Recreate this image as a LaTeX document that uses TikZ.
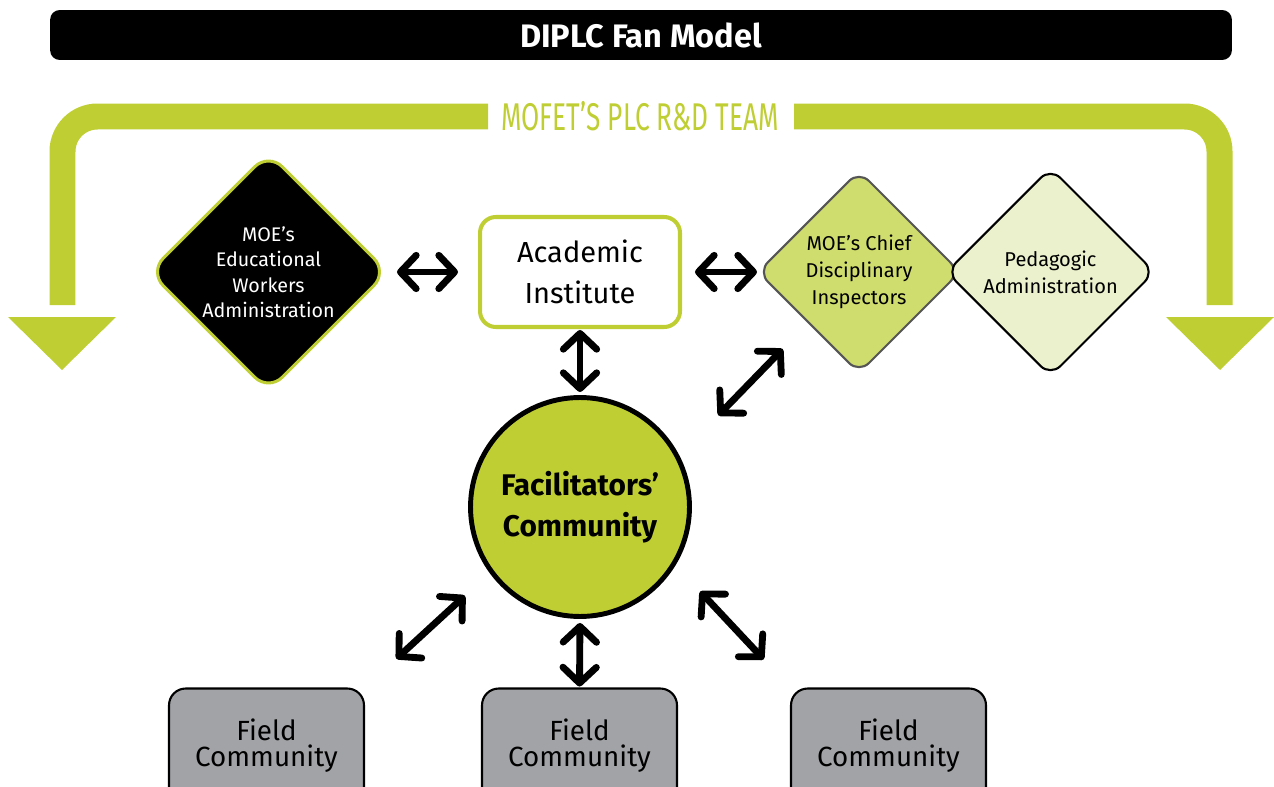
\documentclass[tikz,border=0pt]{standalone}
\usepackage{fontspec}
\setmainfont{Fira Sans}
\newfontfamily\teamfont[FakeStretch=0.68]{Fira Sans}
\usepackage{tikz}
\usetikzlibrary{positioning, arrows.meta, shapes.geometric}
\definecolor{fangreen}{RGB}{191,206,51}
\definecolor{chiefgreen}{RGB}{207,220,110}
\definecolor{pedagreen}{RGB}{235,241,204}
\definecolor{fieldgray}{RGB}{162,163,166}
\definecolor{chiefline}{RGB}{85,85,85}

\tikzset{
  barb/.tip={Straight Barb[length=9pt, width=19pt, round]},
  link/.style={barb-barb, line width=3.9pt, line cap=round},
  band/.style={fangreen, line width=0.52cm, rounded corners=0.7cm},
  rhomb/.style={diamond, aspect=1, inner sep=0pt, outer sep=0pt, align=center,
    font=\fontsize{11.2}{14.5}\selectfont},
  fieldbox/.style={draw=black, line width=1.2pt, fill=fieldgray, rounded corners=9.5pt,
    minimum width=3.9cm, minimum height=2.3cm, outer sep=0pt, align=center,
    font=\fontsize{15.8}{14.7}\selectfont},
}

\begin{document}
\begin{tikzpicture}[x=0.02cm, y=-0.02cm]
\clip (0,0) rectangle (1274,787);

% Title bar
\node[fill=black, rounded corners=5.5pt, minimum width=23.64cm, minimum height=1cm,
  text=white, font=\fontsize{18.5}{22}\selectfont\bfseries] (title) at (641,35) {DIPLC Fan Model};

% Fan band with its two heads
\draw[band] (62.5,305) -- (62.5,116.5) -- (488,116.5);
\draw[band] (794,116.5) -- (1219.5,116.5) -- (1219.5,305);
\fill[fangreen] (8,317) -- (116,317) -- (62,370) -- cycle;
\fill[fangreen] (1166,317) -- (1274,317) -- (1220,370) -- cycle;
\node[text=fangreen, font=\teamfont\fontsize{22}{26}\selectfont] (team) at (640,116.5) {MOFET’S PLC R\&D TEAM};

% Top row
\node[rhomb, fill=black, draw=fangreen, line width=1.7pt, rounded corners=11pt,
  minimum size=4.76cm, text=white] (ewa) at (268.5,272) {MOE’s\\Educational\\Workers\\Administration};
\node[draw=fangreen, line width=2.3pt, rounded corners=9pt, minimum width=4cm, minimum height=2.2cm,
  outer sep=0pt, align=center, font=\fontsize{16.5}{23}\selectfont] (acad) at (580,272) {Academic\\Institute};
\node[rhomb, fill=chiefgreen, draw=chiefline, line width=1.2pt, rounded corners=8pt,
  minimum size=4.04cm, font=\fontsize{11.4}{15.3}\selectfont] (chief) at (859,272) {MOE’s Chief\\Disciplinary\\Inspectors};
\node[rhomb, fill=pedagreen, draw=black, line width=1.2pt, rounded corners=8pt,
  minimum size=4.16cm, font=\fontsize{11.4}{15.3}\selectfont] (peda) at (1050.5,272) {Pedagogic\\Administration};

% Facilitators
\node[circle, fill=fangreen, draw=black, line width=2.8pt, minimum size=4.38cm, inner sep=0pt,
  outer sep=0pt, align=center, font=\fontsize{17}{23.5}\selectfont\bfseries] (fac) at (580,507) {Facilitators’\\Community};

% Field communities
\node[fieldbox] (field1) at (266.5,746) {Field\\Community};
\node[fieldbox] (field2) at (579.5,746) {Field\\Community};
\node[fieldbox] (field3) at (888.5,746) {Field\\Community};

% Two-way arrows
\draw[link, shorten <=0.19cm, shorten >=0.44cm] (ewa.east) -- (acad.west);
\draw[link, shorten <=0.3cm, shorten >=0.02cm] (acad.east) -- (chief.west);
\draw[link, shorten <=0.06cm, shorten >=0.11cm] (acad.south) -- (fac.north);
\draw[link, shorten <=1.17cm, shorten >=0.74cm] (fac.27) -- (chief.225);
\draw[link, shorten <=0.72cm, shorten >=0.88cm] (fac.216) -- (field1.north east);
\draw[link, shorten <=0.13cm, shorten >=0.04cm] (fac.south) -- (field2.north);
\draw[link, shorten <=0.77cm, shorten >=0.8cm] (fac.-31) -- (field3.north west);

\end{tikzpicture}
\end{document}
